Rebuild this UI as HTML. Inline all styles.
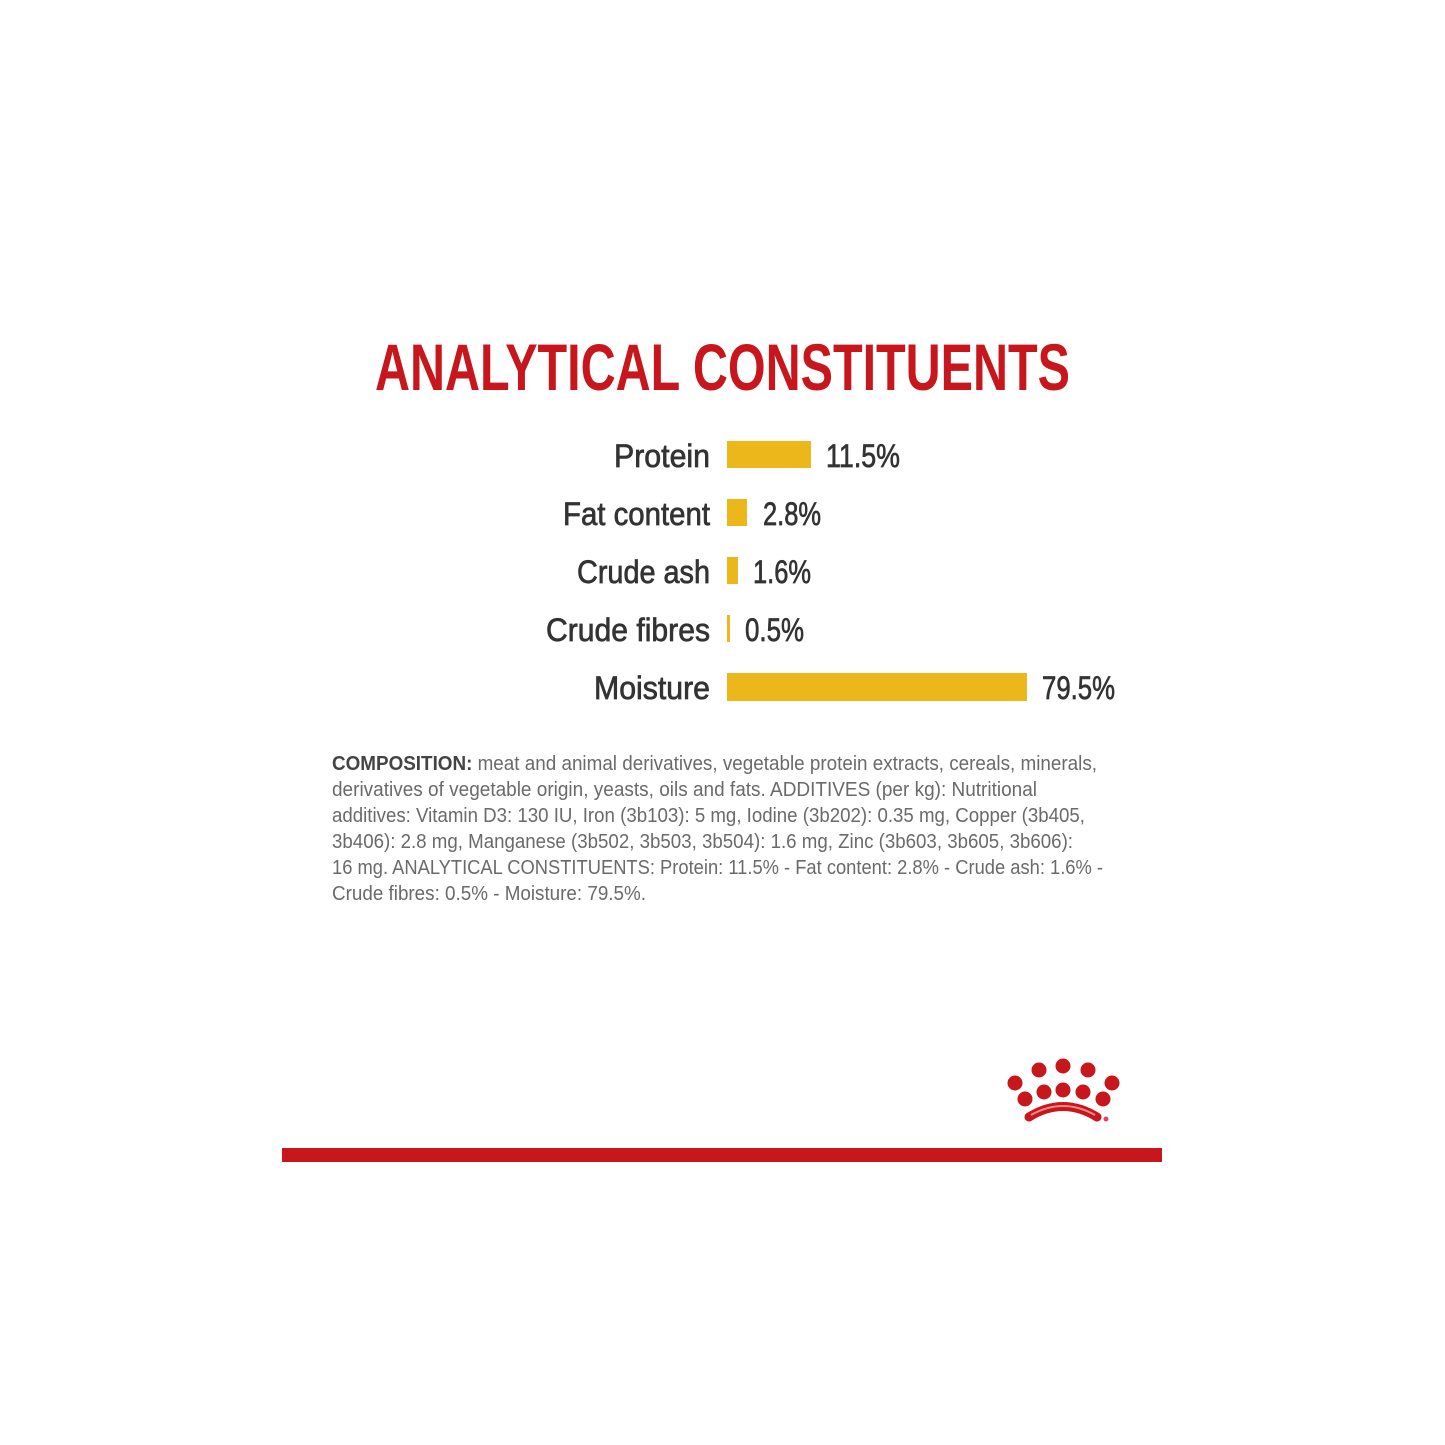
<!DOCTYPE html>
<html><head><meta charset="utf-8"><style>html,body{margin:0;padding:0;background:#fff}svg{display:block}</style></head>
<body>
<svg width="1445" height="1445" viewBox="0 0 1445 1445" xmlns="http://www.w3.org/2000/svg">
<rect width="1445" height="1445" fill="#fff"/>
<text x="375" y="390" font-family="Liberation Sans, sans-serif" font-weight="bold" font-size="66" fill="#c8161d" textLength="695" lengthAdjust="spacingAndGlyphs">ANALYTICAL CONSTITUENTS</text>
<g font-family="Liberation Sans, sans-serif" font-size="32" fill="#333" stroke="#333" stroke-width="0.7" text-anchor="end">
<text x="710" y="467" textLength="96" lengthAdjust="spacingAndGlyphs">Protein</text>
<text x="710" y="525" textLength="147" lengthAdjust="spacingAndGlyphs">Fat content</text>
<text x="710" y="583" textLength="133" lengthAdjust="spacingAndGlyphs">Crude ash</text>
<text x="710" y="641" textLength="164" lengthAdjust="spacingAndGlyphs">Crude fibres</text>
<text x="710" y="699" textLength="116" lengthAdjust="spacingAndGlyphs">Moisture</text>
</g>
<g fill="#ebb71a">
<rect x="727" y="441" width="84" height="27"/>
<rect x="727" y="499" width="20" height="27"/>
<rect x="727" y="557" width="11" height="27"/>
<rect x="727" y="615" width="3" height="27"/>
<rect x="727" y="673" width="300" height="28"/>
</g>
<g font-family="Liberation Sans, sans-serif" font-size="32" fill="#333" stroke="#333" stroke-width="0.7">
<text x="826" y="467" textLength="74" lengthAdjust="spacingAndGlyphs">11.5%</text>
<text x="763" y="525" textLength="58" lengthAdjust="spacingAndGlyphs">2.8%</text>
<text x="753" y="583" textLength="58" lengthAdjust="spacingAndGlyphs">1.6%</text>
<text x="745" y="641" textLength="59" lengthAdjust="spacingAndGlyphs">0.5%</text>
<text x="1042" y="699" textLength="73" lengthAdjust="spacingAndGlyphs">79.5%</text>
</g>
<g font-family="Liberation Sans, sans-serif" font-size="20" fill="#6a6a6a">
<text x="332" y="770" textLength="765" lengthAdjust="spacingAndGlyphs"><tspan font-weight="bold" fill="#444">COMPOSITION:</tspan> meat and animal derivatives, vegetable protein extracts, cereals, minerals,</text>
<text x="332" y="796" textLength="705" lengthAdjust="spacingAndGlyphs">derivatives of vegetable origin, yeasts, oils and fats. ADDITIVES (per kg): Nutritional</text>
<text x="332" y="822" textLength="753" lengthAdjust="spacingAndGlyphs">additives: Vitamin D3: 130 IU, Iron (3b103): 5 mg, Iodine (3b202): 0.35 mg, Copper (3b405,</text>
<text x="332" y="848" textLength="741" lengthAdjust="spacingAndGlyphs">3b406): 2.8 mg, Manganese (3b502, 3b503, 3b504): 1.6 mg, Zinc (3b603, 3b605, 3b606):</text>
<text x="332" y="874" textLength="771" lengthAdjust="spacingAndGlyphs">16 mg. ANALYTICAL CONSTITUENTS: Protein: 11.5% - Fat content: 2.8% - Crude ash: 1.6% -</text>
<text x="332" y="900" textLength="314" lengthAdjust="spacingAndGlyphs">Crude fibres: 0.5% - Moisture: 79.5%.</text>
</g>
<g fill="#c8161d">
<circle cx="1015" cy="1083" r="7.5"/><circle cx="1039" cy="1070" r="7.5"/><circle cx="1063" cy="1066" r="7.5"/><circle cx="1088" cy="1070" r="7.5"/><circle cx="1112" cy="1083" r="7.5"/>
<circle cx="1025" cy="1099" r="7.5"/><circle cx="1044" cy="1092" r="7.5"/><circle cx="1063" cy="1090" r="7.5"/><circle cx="1083" cy="1092" r="7.5"/><circle cx="1103" cy="1099" r="7.5"/>
</g>
<path d="M1029 1117 Q1063 1096 1097 1117" stroke="#c8161d" stroke-width="9" fill="none" stroke-linecap="round"/>
<path d="M1031 1115 Q1063 1097 1095 1115" stroke="#f08a8a" stroke-width="2" fill="none"/>
<circle cx="1106" cy="1119" r="2.5" fill="#d46"/>
<rect x="282" y="1148" width="880" height="14" fill="#c8161d"/>
</svg>
</body></html>
